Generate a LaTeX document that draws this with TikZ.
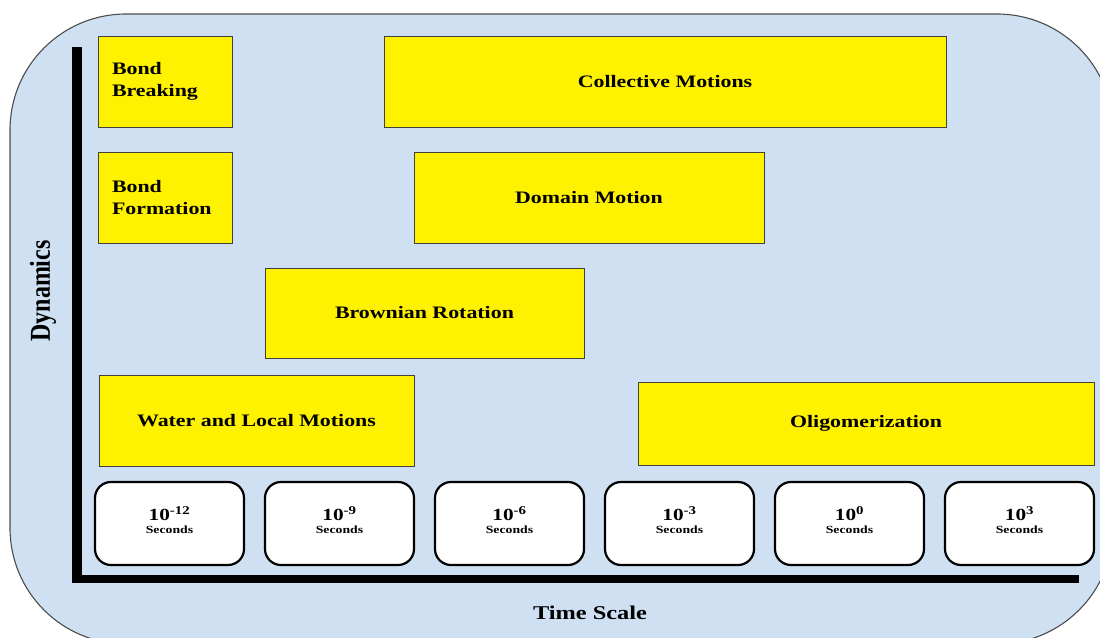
\documentclass[tikz,border=0pt]{standalone}
\usepackage{fontspec}
\setmainfont[FakeStretch=1.25]{Liberation Serif}
\newfontfamily\dynfont{Liberation Serif}
\definecolor{panel}{RGB}{207,224,242}

\begin{document}
\begin{tikzpicture}[x=1pt,y=-1pt,
  yb/.style={draw=black!75, fill=yellow, line width=0.8pt, inner sep=0pt, minimum height=91pt, font=\fontsize{17.5}{22}\selectfont\bfseries},
  sb/.style={yb, minimum width=134pt, text width=106pt, align=left},
  tb/.style={draw=black, fill=white, line width=2.2pt, rounded corners=16pt, minimum width=149pt, minimum height=83pt, inner sep=0pt, text depth=7pt, align=center, font=\fontsize{11}{13}\selectfont\bfseries},
  ax/.style={line cap=butt}]
  \useasboundingbox (0,0) rectangle (1100,637);
  \draw[fill=panel, draw=black!70, line width=1.1pt, rounded corners=116pt] (10,14) rectangle (1113,644);
  % axes
  \draw[ax, line width=10pt] (77,47) -- (77,583);
  \draw[ax, line width=8pt] (72,579) -- (1079,579);
  \node[rotate=90, font=\dynfont\bfseries\fontsize{24}{28}\selectfont] (dyn) at (43,291) {\scalebox{1}[1.2]{Dynamics}};
  \node[font=\fontsize{19.5}{22}\selectfont\bfseries] (ts) at (590,613) {Time Scale};
  % dynamics
  \node[sb] (bb) at (165,81.5) {Bond\\Breaking};
  \node[sb] (bf) at (165,197.5) {Bond\\Formation};
  \node[yb, minimum width=562pt] (cm) at (665,81.5) {Collective Motions};
  \node[yb, minimum width=350pt] (dm) at (589,197.5) {Domain Motion};
  \node[yb, minimum width=319pt, minimum height=90pt] (br) at (424.5,313) {Brownian Rotation};
  \node[yb, minimum width=315pt] (wl) at (256.5,420.5) {Water and Local Motions};
  \node[yb, minimum width=456pt, minimum height=83pt] (ol) at (866,423.5) {Oligomerization};
  % time scale
  \node[tb] (t1) at (169.5,523.5) {{\fontsize{17}{13}\selectfont 10\textsuperscript{-12}}\\Seconds};
  \node[tb] (t2) at (339.5,523.5) {{\fontsize{17}{13}\selectfont 10\textsuperscript{-9}}\\Seconds};
  \node[tb] (t3) at (509.5,523.5) {{\fontsize{17}{13}\selectfont 10\textsuperscript{-6}}\\Seconds};
  \node[tb] (t4) at (679.5,523.5) {{\fontsize{17}{13}\selectfont 10\textsuperscript{-3}}\\Seconds};
  \node[tb] (t5) at (849.5,523.5) {{\fontsize{17}{13}\selectfont 10\textsuperscript{0}}\\Seconds};
  \node[tb] (t6) at (1019.5,523.5) {{\fontsize{17}{13}\selectfont 10\textsuperscript{3}}\\Seconds};
\end{tikzpicture}
\end{document}
